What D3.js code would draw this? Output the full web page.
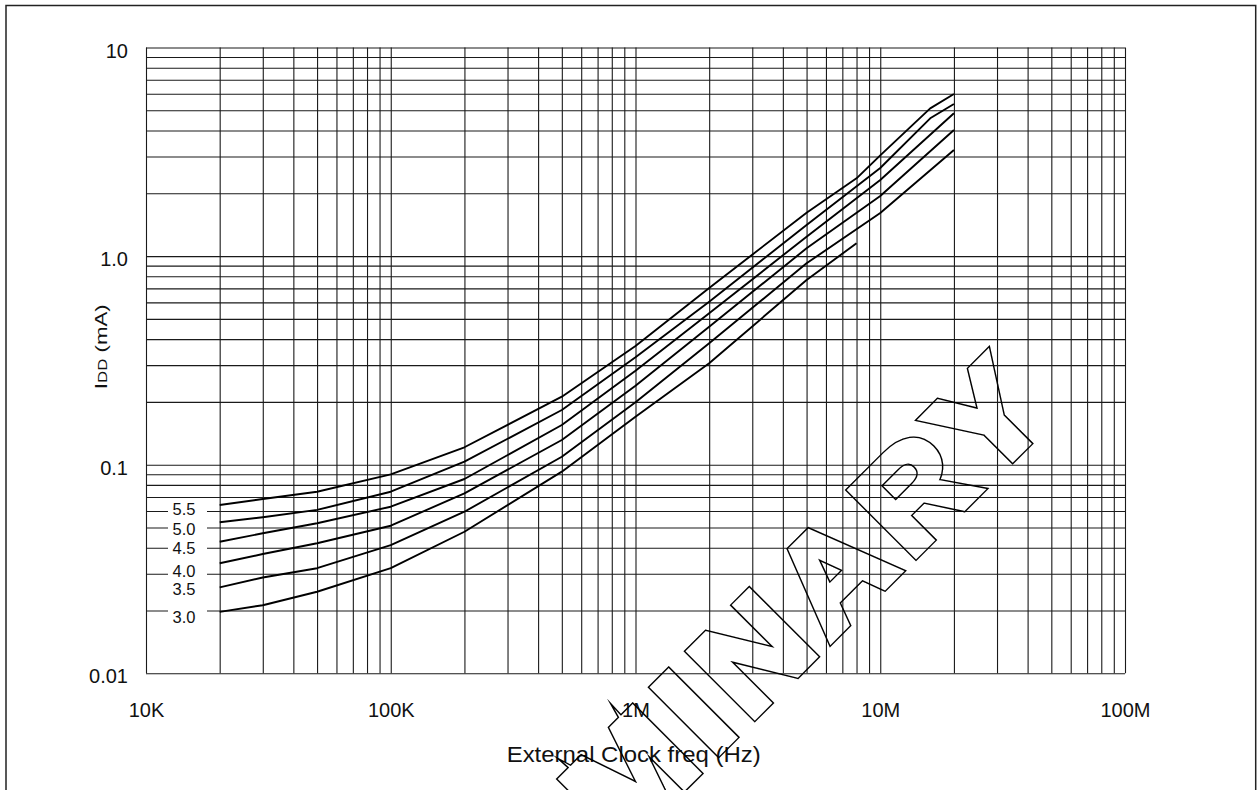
<!DOCTYPE html>
<html><head><meta charset="utf-8">
<script src="https://cdn.jsdelivr.net/npm/d3@7"></script>
<style>
html,body{margin:0;padding:0;background:#fff;}
svg{display:block;font-family:"Liberation Sans",Arial,Helvetica,sans-serif;}
</style></head><body>
<svg id="chart" width="1259" height="790"></svg>
<script>
// ---- data ----
const freq   = [2e4, 3e4, 5e4, 1e5, 2e5, 5e5, 1e6, 2e6, 5e6, 8e6, 1e7, 1.6e7, 2e7];
const idd55  = [0.0641,0.0685,0.0742,0.0899,0.1212,0.2118,0.3707,0.7035,1.614,2.360,3.042,5.110,5.985];
const idd50  = [0.0530,0.0560,0.0607,0.0742,0.1034,0.1829,0.3272,0.6045,1.409,null,2.645,4.577,5.359];
const idd45  = [0.0427,0.0469,0.0524,0.0629,0.0854,0.1550,0.2822,0.5318,1.239,null,2.316,null,4.837];
const idd40  = [0.0337,0.0373,0.0420,0.0510,0.0729,0.1313,0.2392,0.4587,1.090,null,1.942,null,4.022];
const idd35  = [0.0258,0.0288,0.0319,0.0412,0.0595,0.1092,0.1991,0.3819,0.9236,null,1.609,null,3.226];
const idd30  = [0.0197,0.0212,0.0246,0.0319,0.0477,0.0926,0.1699,0.3062,0.7683,1.152,null,null,null];
const seriesNames = ["5.5","5.0","4.5","4.0","3.5","3.0"];
const labelIdd    = [0.0610,0.0492,0.0397,0.0309,0.0254,0.0187];
const xTickValues = [1e4,1e5,1e6,1e7,1e8];
const xTickLabels = ["10K","100K","1M","10M","100M"];
const yTickValues = [0.01,0.1,1,10];
const yTickLabels = ["0.01","0.1","1.0","10"];
const xTitle = "External Clock freq (Hz)";
const watermark = "PRELIMINARY";

const allSeries = [idd55, idd50, idd45, idd40, idd35, idd30];

// ---- layout ----
const svg = d3.select("#chart");
const L = 146, R = 1125, T = 47.5, B = 673.3;
const x = d3.scaleLog().domain([1e4, 1e8]).range([L, R]);
const y = d3.scaleLog().domain([0.01, 10]).range([B, T]);
const ink = "#111";

// outer frame
svg.append("rect").attr("x", 6).attr("y", 5.5).attr("width", 1249.7).attr("height", 820)
  .attr("fill", "none").attr("stroke", "#222").attr("stroke-width", 1.5);

// vertical grid
const gx = svg.append("g").attr("transform", `translate(0,${B})`)
  .call(d3.axisBottom(x).tickValues(x.ticks()).tickSize(-(B - T)).tickFormat(""));
gx.select(".domain").remove();
gx.selectAll(".tick line").attr("stroke", "#1a1a1a").attr("stroke-width", 1.1);

// horizontal grid
const gy = svg.append("g").attr("transform", `translate(${L},0)`)
  .call(d3.axisLeft(y).tickValues(y.ticks()).tickSize(-(R - L)).tickFormat(""));
gy.select(".domain").remove();
gy.selectAll(".tick line").attr("stroke", "#1a1a1a").attr("stroke-width", 1.1);

// x tick labels
const ax = svg.append("g").attr("transform", `translate(0,${B})`)
  .call(d3.axisBottom(x).tickValues(xTickValues).tickFormat((d, i) => xTickLabels[i]).tickSize(0));
ax.select(".domain").remove();
ax.selectAll("text").attr("y", 43.4).attr("dy", null)
  .attr("font-size", 20).attr("font-family", null).attr("fill", ink);

// y tick labels
const ay = svg.append("g").attr("transform", `translate(128,0)`)
  .call(d3.axisLeft(y).tickValues(yTickValues).tickFormat((d, i) => yTickLabels[i]).tickSize(0));
ay.select(".domain").remove();
ay.selectAll("text").attr("x", 0).attr("y", 9.5).attr("dy", null)
  .attr("font-size", 20).attr("font-family", null).attr("fill", ink);

// curves
const line = d3.line().x(d => x(d.f)).y(d => y(d.v));
allSeries.forEach(arr => {
  const pts = freq.map((f, i) => ({ f, v: arr[i] })).filter(d => d.v != null);
  svg.append("path").attr("d", line(pts)).attr("fill", "none")
    .attr("stroke", "#000").attr("stroke-width", 1.9).attr("stroke-linejoin", "round");
});

// series labels (with white backing that interrupts grid lines)
const lx = x(1e4) + 38;
seriesNames.forEach((s, i) => {
  const cy = y(labelIdd[i]);
  svg.append("rect").attr("x", x(1e4) + 22).attr("y", cy - 8.5).attr("width", 39).attr("height", 17).attr("fill", "#fff");
  svg.append("text").attr("x", lx).attr("y", cy + 6).attr("text-anchor", "middle")
    .attr("font-size", 16.5).attr("fill", ink).text(s);
});

// axis titles
svg.append("text").attr("x", 633.7).attr("y", 762).attr("text-anchor", "middle")
  .attr("font-size", 22).attr("fill", ink)
  .attr("textLength", 254).attr("lengthAdjust", "spacingAndGlyphs").text(xTitle);

const yl = svg.append("text").attr("transform", "translate(106.5,346.7) rotate(-90) scale(1.35,1)")
  .attr("text-anchor", "middle").attr("font-size", 16.5).attr("fill", ink);
yl.append("tspan").text("I");
yl.append("tspan").attr("font-size", 12.5).text("DD");
yl.append("tspan").text(" (mA)");

// watermark: outlined, rotated "PRELIMINARY"
const defs = svg.append("defs");
const mask = defs.append("mask").attr("id", "wm").attr("maskUnits", "userSpaceOnUse")
  .attr("x", 0).attr("y", 0).attr("width", 1259).attr("height", 790);
const wmT = "translate(1061.6,409.4) rotate(-45) scale(1,0.94)";
[["#fff", 9.6], ["#000", 6.8]].forEach(([c, w]) => {
  mask.append("text").attr("transform", wmT).attr("text-anchor", "end")
    .attr("font-size", 142).attr("font-weight", "bold").attr("letter-spacing", 11.5)
    .attr("fill", c).attr("stroke", c).attr("stroke-width", w)
    .attr("stroke-linejoin", "miter").attr("stroke-miterlimit", 10)
    .text(watermark);
});
svg.append("rect").attr("x", 0).attr("y", 0).attr("width", 1259).attr("height", 790)
  .attr("fill", "#000").attr("mask", "url(#wm)");
</script>
</body></html>
